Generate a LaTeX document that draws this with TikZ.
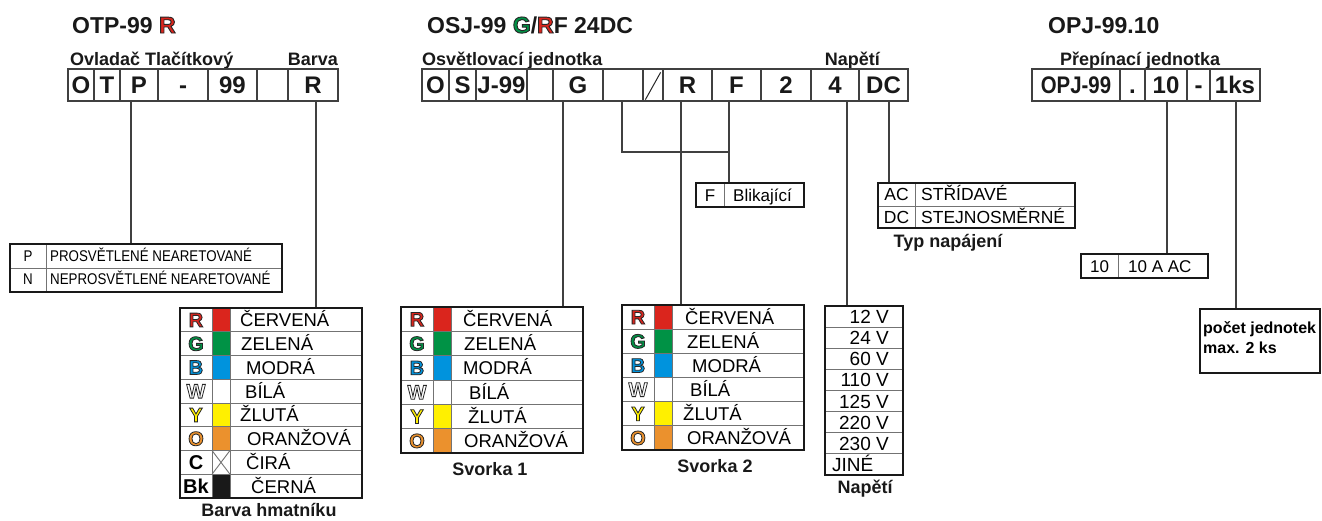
\documentclass[tikz,border=0pt]{standalone}
\usepackage{fontspec}
\setmainfont{Liberation Sans}
\newfontfamily\narrowfont[FakeStretch=0.86]{Liberation Sans}
\newfontfamily\outlfont[FakeBold=4]{Liberation Sans Bold}
\definecolor{cred}{RGB}{218,37,29}
\definecolor{cgreen}{RGB}{0,146,69}
\definecolor{cblue}{RGB}{0,147,221}
\definecolor{cyellow}{RGB}{255,240,0}
\definecolor{corange}{RGB}{235,145,45}
\newcommand\fs[1]{\fontsize{#1}{#1}\selectfont}
% outlined letter: coloured fill, dark stroke
\newcommand\olet[2]{\textcolor{#1}{\special{pdf:literal direct 0.15 0.15 0.15 RG}{\outlfont\mdseries\upshape #2}}}
\tikzset{
  title/.style={anchor=base west,inner sep=0,font=\fs{23}\bfseries,text=black!90},
  sub/.style={anchor=base west,inner sep=0,font=\fs{18}\bfseries,text=black!90},
  subr/.style={sub,anchor=base east},
  capt/.style={anchor=base,inner sep=0,font=\fs{18}\bfseries,text=black!90},
  topbox/.style={draw=black!75,line width=1.2,inner sep=0,minimum height=32,text height=17,text depth=0,font=\fs{24}\bfseries,text=black!90},
  tframe/.style={draw=black!90,line width=2.6,inner sep=0},
  thinline/.style={draw=black!55,line width=0.9},
  conn/.style={draw=black!75,line width=1.3},
  rowtxt/.style={anchor=base west,inner sep=0,font=\fs{18.5}},
  lettxt/.style={anchor=base,inner sep=0,font=\fs{20}\bfseries},
  cell/.style={anchor=base west,inner sep=0,font=\fs{17}},
  cellc/.style={anchor=base,inner sep=0,font=\fs{17}},
  volt/.style={anchor=base east,inner sep=0,font=\fs{19}},
  voltl/.style={anchor=base west,inner sep=0,font=\fs{19}},
  narrow/.style={anchor=base west,inner sep=0,font=\narrowfont\fs{15.5}},
  narrowc/.style={anchor=base,inner sep=0,font=\narrowfont\fs{15.5}},
  bnote/.style={anchor=base west,inner sep=0,font=\fs{16}\bfseries}
}
% colour table: name, x left, x right, y top, row height, rows, list
\newcommand\coltab[7]{%
  \foreach \L/\C/\T/\X [count=\i] in {#7}{
    \fill[\C] ({#2+32},{#4+(\i-1)*#5}) rectangle ({#2+50},{#4+\i*#5});
    \node[lettxt] (#1L\i) at ({#2+16},{#4+(\i-0.5)*#5+7}) {\L};
    \node[rowtxt] (#1T\i) at (\X,{#4+(\i-0.5)*#5+7}) {\T};
  }
  \foreach \k in {2,...,#6}
    \draw[thinline] (#2,{#4+(\k-1)*#5}) -- (#3,{#4+(\k-1)*#5});
  \draw[thinline] ({#2+32},#4) -- ({#2+32},{#4+#6*#5});
  \draw[thinline] ({#2+50},#4) -- ({#2+50},{#4+#6*#5});
  \node[tframe,minimum width={#3-#2},minimum height={#6*#5}] (#1) at ({(#2+#3)/2},{#4+#6*#5/2}) {};
}
\begin{document}
\begin{tikzpicture}[x=1pt,y=-1pt]
\useasboundingbox (0,0) rectangle (1322,520);

% ---------- titles ----------
\node[title] (t1) at (72,33) {OTP-99 \olet{cred}{R}};
\node[title] (t2) at (427,33) {OSJ-99 \olet{cgreen}{G}/\olet{cred}{R}F 24DC};
\node[title] (t3) at (1048,33) {OPJ-99.10};

\node[sub] (s1) at (70,65) {Ovladač Tlačítkový};
\node[subr] (s2) at (338,65) {Barva};
\node[sub] (s3) at (422,65) {Osvětlovací jednotka};
\node[subr] (s4) at (880,65) {Napětí};
\node[sub] (s5) at (1060,65) {Přepínací jednotka};

% ---------- code boxes ----------
\foreach \a/\b/\t [count=\i] in {68/94/O,94/120/T,120/158/P,158/208/-,208/257/99,257/288/{},288/338/R}
  \node[topbox,minimum width={\b-\a}] (L\i) at ({(\a+\b)/2},85) {\t};
\foreach \a/\b/\t [count=\i] in {422/449/O,449/476/S,476/527/J-99,527/553/{},553/603/G,603/643/{},643/663/{},663/712/R,712/761/F,761/811/2,811/859/4,859/908/DC}
  \node[topbox,minimum width={\b-\a}] (M\i) at ({(\a+\b)/2},85) {\t};
\draw[black!85,line width=1] ([xshift=3,yshift=2]M7.south west) -- ([xshift=-3,yshift=-4]M7.north east);
\foreach \a/\b/\t [count=\i] in {1032/1120/{\scalebox{0.85}[1]{OPJ-99}},1120/1145/.,1145/1187/10,1187/1210/-,1210/1260/1ks}
  \node[topbox,minimum width={\b-\a}] (R\i) at ({(\a+\b)/2},85) {\t};

% ---------- P/N table ----------
\draw[thinline] (10,268) -- (282,268);
\draw[thinline] (46,244) -- (46,292);
\node[narrowc] (pnP) at (28,261.5) {P};
\node[narrowc] (pnN) at (28,284.5) {N};
\node[narrow] (pnT1) at (50,261.5) {PROSVĚTLENÉ NEARETOVANÉ};
\node[narrow] (pnT2) at (50,284.5) {NEPROSVĚTLENÉ NEARETOVANÉ};
\node[tframe,minimum width=272,minimum height=48] (pn) at (146,268) {};

% ---------- colour tables ----------
\coltab{ct}{180}{362}{308}{23.75}{8}{{\olet{cred}{R}}/cred/ČERVENÁ/240,{\olet{cgreen}{G}}/cgreen/ZELENÁ/241,{\olet{cblue}{B}}/cblue/MODRÁ/246,{\olet{white}{W}}/white/BÍLÁ/245,{\olet{cyellow}{Y}}/cyellow/ŽLUTÁ/240,{\olet{corange}{O}}/corange/ORANŽOVÁ/247,C/white/ČIRÁ/246,Bk/black!90/ČERNÁ/251}
\draw[thinline] (212,450.5) -- (230,474.25) (212,474.25) -- (230,450.5);
\node[capt] (ctcap) at (269,516) {Barva hmatníku};

\coltab{sa}{401}{583}{307}{24.33}{6}{{\olet{cred}{R}}/cred/ČERVENÁ/463,{\olet{cgreen}{G}}/cgreen/ZELENÁ/464,{\olet{cblue}{B}}/cblue/MODRÁ/463,{\olet{white}{W}}/white/BÍLÁ/469,{\olet{cyellow}{Y}}/cyellow/ŽLUTÁ/468,{\olet{corange}{O}}/corange/ORANŽOVÁ/464}
\node[capt] (sacap) at (490,475) {Svorka 1};

\coltab{sb}{622}{804}{305}{24.17}{6}{{\olet{cred}{R}}/cred/ČERVENÁ/685,{\olet{cgreen}{G}}/cgreen/ZELENÁ/687,{\olet{cblue}{B}}/cblue/MODRÁ/692,{\olet{white}{W}}/white/BÍLÁ/690,{\olet{cyellow}{Y}}/cyellow/ŽLUTÁ/683,{\olet{corange}{O}}/corange/ORANŽOVÁ/687}
\node[capt] (sbcap) at (715,472) {Svorka 2};

% ---------- voltage table ----------
\foreach \t [count=\i] in {12 V,24 V,60 V,110 V,125 V,220 V,230 V}
  \node[volt] (nv\i) at (889,{306+(\i-0.5)*21.125+7}) {\t};
\node[voltl] (nv8) at (832,{306+7.5*21.125+7}) {JINÉ};
\foreach \k in {1,...,7}
  \draw[thinline] (825,{306+\k*21.125}) -- (903,{306+\k*21.125});
\node[tframe,minimum width=78,minimum height=169] (nt) at (864,390.5) {};
\node[capt] (ntcap) at (865,493) {Napětí};

% ---------- F box ----------
\draw[thinline] (724,183) -- (724,207);
\node[cellc] (fbF) at (710,201) {F};
\node[cell] (fbT) at (733,201) {Blikající};
\node[tframe,minimum width=108,minimum height=24] (fb) at (750,195) {};

% ---------- AC/DC table ----------
\draw[thinline] (878,206) -- (1075,206);
\draw[thinline] (915,183) -- (915,228);
\node[cellc,font=\fs{17.5}] (acA) at (896.5,200.5) {AC};
\node[cellc,font=\fs{17.5}] (acD) at (896.5,223) {DC};
\node[cell,font=\fs{17.5}] (acT1) at (921,200.5) {STŘÍDAVÉ};
\node[cell,font=\fs{17.5}] (acT2) at (921,223) {STEJNOSMĚRNÉ};
\node[tframe,minimum width=197,minimum height=45] (ac) at (976.5,205.5) {};
\node[capt] (accap) at (948,247) {Typ napájení};

% ---------- 10 A box ----------
\draw[thinline] (1118,254) -- (1118,278);
\node[cellc] (ab1) at (1099.5,272) {10};
\node[cell] (ab2) at (1128,272) {10 A AC};
\node[tframe,minimum width=127,minimum height=24] (ab) at (1144.5,266) {};

% ---------- count box ----------
\node[tframe,minimum width=120,minimum height=64] (pb) at (1260,341) {};
\node[bnote] (pb1) at (1203,333) {počet jednotek};
\node[bnote] (pb2) at (1203,353) {max. 2 ks};

% ---------- connectors ----------
\coordinate (cP) at (131,101);
\coordinate (cR) at (316,101);
\coordinate (cG) at (563,101);
\coordinate (cE) at (622,101);
\coordinate (cRR) at (681,101);
\coordinate (cF) at (729,101);
\coordinate (fj) at (729,152);
\coordinate (c4) at (847,101);
\coordinate (cDC) at (889,101);
\coordinate (c10) at (1167,101);
\coordinate (cks) at (1236,101);

\draw[conn] (cP) -- (cP |- pn.north);
\draw[conn] (cR) -- (cR |- ct.north);
\draw[conn] (cG) -- (cG |- sa.north);
\draw[conn] (cE) |- (fj);
\draw[conn] (cF) -- (cF |- fb.north);
\draw[conn] (cRR) -- (cRR |- sb.north);
\draw[conn] (c4) -- (c4 |- nt.north);
\draw[conn] (cDC) -- (cDC |- ac.north);
\draw[conn] (c10) -- (c10 |- ab.north);
\draw[conn] (cks) -- (cks |- pb.north);
\end{tikzpicture}
\end{document}
